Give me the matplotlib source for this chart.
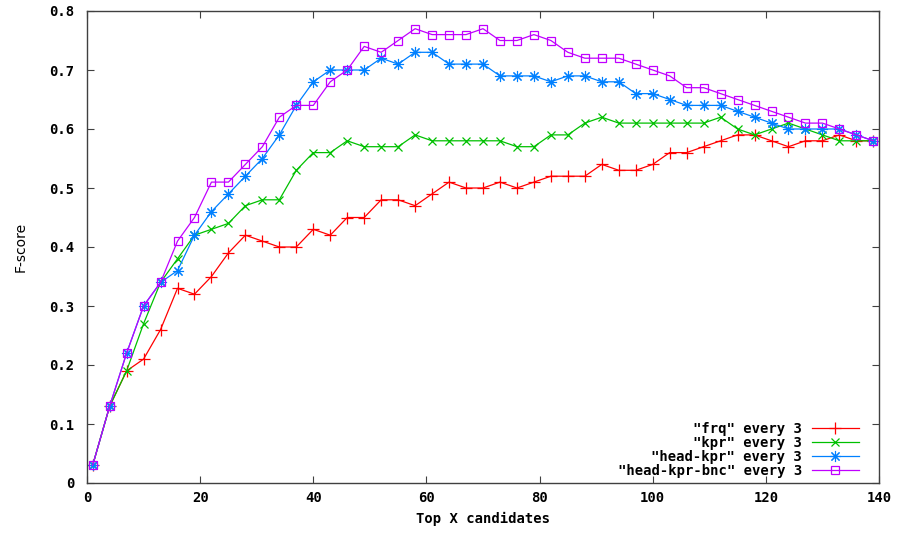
import matplotlib
matplotlib.use("Agg")
import matplotlib.pyplot as plt

x_vals = [1, 4, 7, 10, 13, 16, 19, 22, 25, 28, 31, 34, 37, 40, 43, 46, 49, 52, 55, 58,
          61, 64, 67, 70, 73, 76, 79, 82, 85, 88, 91, 94, 97, 100, 103, 106, 109, 112,
          115, 118, 121, 124, 127, 130, 133, 136, 139]

frq = [0.03, 0.13, 0.19, 0.21, 0.26, 0.33, 0.32, 0.35, 0.39, 0.42, 0.41, 0.40, 0.40,
       0.43, 0.42, 0.45, 0.45, 0.48, 0.48, 0.47, 0.49, 0.51, 0.50, 0.50, 0.51, 0.50,
       0.51, 0.52, 0.52, 0.52, 0.54, 0.53, 0.53, 0.54, 0.56, 0.56, 0.57, 0.58, 0.59,
       0.59, 0.58, 0.57, 0.58, 0.58, 0.59, 0.58, 0.58]

kpr = [0.03, 0.13, 0.19, 0.27, 0.34, 0.38, 0.42, 0.43, 0.44, 0.47, 0.48, 0.48, 0.53,
       0.56, 0.56, 0.58, 0.57, 0.57, 0.57, 0.59, 0.58, 0.58, 0.58, 0.58, 0.58, 0.57,
       0.57, 0.59, 0.59, 0.61, 0.62, 0.61, 0.61, 0.61, 0.61, 0.61, 0.61, 0.62, 0.60,
       0.59, 0.60, 0.61, 0.60, 0.59, 0.58, 0.58, 0.58]

head_kpr = [0.03, 0.13, 0.22, 0.30, 0.34, 0.36, 0.42, 0.46, 0.49, 0.52, 0.55, 0.59, 0.64,
            0.68, 0.70, 0.70, 0.70, 0.72, 0.71, 0.73, 0.73, 0.71, 0.71, 0.71, 0.69, 0.69,
            0.69, 0.68, 0.69, 0.69, 0.68, 0.68, 0.66, 0.66, 0.65, 0.64, 0.64, 0.64, 0.63,
            0.62, 0.61, 0.60, 0.60, 0.60, 0.60, 0.59, 0.58]

head_kpr_bnc = [0.03, 0.13, 0.22, 0.30, 0.34, 0.41, 0.45, 0.51, 0.51, 0.54, 0.57, 0.62, 0.64,
                0.64, 0.68, 0.70, 0.74, 0.73, 0.75, 0.77, 0.76, 0.76, 0.76, 0.77, 0.75, 0.75,
                0.76, 0.75, 0.73, 0.72, 0.72, 0.72, 0.71, 0.70, 0.69, 0.67, 0.67, 0.66, 0.65,
                0.64, 0.63, 0.62, 0.61, 0.61, 0.60, 0.59, 0.58]

labels = ['"frq" every 3', '"kpr" every 3', '"head-kpr" every 3', '"head-kpr-bnc" every 3']
x_ticks = [0, 20, 40, 60, 80, 100, 120, 140]
y_ticks = [0, 0.1, 0.2, 0.3, 0.4, 0.5, 0.6, 0.7, 0.8]
y_tick_labels = ["0", "0.1", "0.2", "0.3", "0.4", "0.5", "0.6", "0.7", "0.8"]

W, H = 901, 533
fig = plt.figure(figsize=(W / 100, H / 100), dpi=100)
ax = fig.add_axes([87 / W, 1 - 483 / H, (879 - 87) / W, (483 - 11) / H])

mono = {"family": "DejaVu Sans Mono", "weight": "bold", "size": 10}

ax.plot(x_vals, frq, color="#ff0000", lw=0.9, marker="+", ms=8, mew=0.9, label=labels[0])
ax.plot(x_vals, kpr, color="#00c000", lw=0.9, marker="x", ms=6, mew=0.9, label=labels[1])
ax.plot(x_vals, head_kpr, color="#0080ff", lw=0.9, marker=(8, 2, 0), ms=8, mew=0.8, label=labels[2])
ax.plot(x_vals, head_kpr_bnc, color="#c000ff", lw=0.9, marker="s", ms=6, mew=0.9,
        mfc="none", label=labels[3])

ax.set_xlim(0, 140)
ax.set_ylim(0, 0.8)
ax.set_xticks(x_ticks)
ax.set_xticklabels([str(t) for t in x_ticks], fontdict=mono)
ax.set_yticks(y_ticks)
ax.set_yticklabels(y_tick_labels, fontdict=mono)
ax.tick_params(axis="x", direction="in", length=5, width=0.8, color="#404040",
               top=True, pad=6)
ax.tick_params(axis="y", direction="in", length=5, width=0.8, color="#404040",
               right=True, pad=9)
for s in ax.spines.values():
    s.set_color("#404040")
    s.set_linewidth(1.0)

ax.set_xlabel("Top X candidates", fontdict=mono, labelpad=5)
ax.set_ylabel("F-score", family="DejaVu Sans", size=10, labelpad=16)

leg = ax.legend(loc="lower right", bbox_to_anchor=(0.992, -0.018), frameon=False,
                markerfirst=False, prop={"family": "DejaVu Sans Mono", "weight": "bold", "size": 10},
                handlelength=3.4, labelspacing=0.0, handletextpad=0.7, borderaxespad=0.6)

fig.savefig("out.png", dpi=100)
